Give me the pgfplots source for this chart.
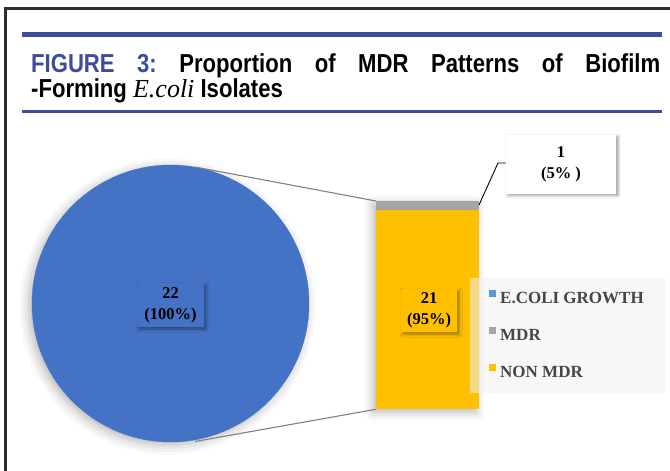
\documentclass[border=0pt]{standalone}
\usepackage{pgfplots}
\pgfplotsset{compat=1.18}
\usepackage{fontspec}
\setmainfont{Liberation Serif}
\newfontfamily\titlefont[FakeStretch=0.85]{Liberation Sans}
\usetikzlibrary{shadows.blur}
\definecolor{titleblue}{RGB}{61,76,155}
\definecolor{pieblue}{RGB}{68,114,196}
\definecolor{legendblue}{RGB}{91,155,213}
\definecolor{bargray}{RGB}{165,165,165}
\definecolor{baryellow}{RGB}{255,192,0}
\definecolor{conngray}{RGB}{128,128,128}
\definecolor{framecol}{RGB}{45,45,45}
\definecolor{legtext}{RGB}{70,70,70}
\definecolor{legbg}{RGB}{240,240,240}
\pgfplotsset{canvas/.style={at={(0pt,0pt)}, anchor=south west, width=670pt, height=471pt,
  scale only axis, xmin=0, xmax=670, ymin=0, ymax=471, y dir=reverse, hide axis, clip=false}}
\begin{document}
\begin{tikzpicture}[x=1pt,y=1pt]
\clip (0,0) rectangle (670,471);
% shadows behind pie and bar (pixel coords: (x, 471-y))
\fill[white, blur shadow={shadow xshift=-3pt, shadow yshift=-3pt, shadow blur radius=10pt, shadow opacity=30}] (170.5,167.5) circle[radius=138.5pt];
\fill[white, blur shadow={shadow xshift=-3pt, shadow yshift=-3pt, shadow blur radius=9pt, shadow opacity=30}] (376,62) rectangle (479,270);
% pie: E.COLI GROWTH = 22 (100%)
\begin{axis}[canvas]
\addplot[only marks, mark=*, color=pieblue, mark size=138.5pt, forget plot] coordinates {(170.5,303.5)};
\end{axis}
% stacked bar (MDR pattern among 22 isolates)
\begin{axis}[at={(376pt,62pt)}, anchor=south west, width=103pt, height=208pt,
  scale only axis, xmin=-0.5, xmax=0.5, ymin=0, ymax=22, hide axis,
  ybar stacked, bar width=103pt, clip=false]
\addplot[fill=baryellow, draw=none] coordinates {(0,21)}; % NON MDR
\addplot[fill=bargray, draw=none] coordinates {(0,1)};    % MDR
\end{axis}
% main canvas in pixel units
\begin{axis}[canvas,
  legend style={at={(488.5/670,181/471)}, anchor=north west, draw=none, fill=none,
    inner sep=0pt, row sep=23.5pt, column sep=0pt,
    font=\bfseries\fontsize{17}{18}\selectfont, text=legtext,
    cells={anchor=west},
    nodes={inner xsep=2.5pt, inner ysep=0pt, text height=11pt, text depth=0pt}},
  legend image code/.code={\path[draw=none, fill=none] (0pt,0pt) rectangle (9pt,0pt); \fill[#1, draw=none] (0pt,0.8pt) rectangle (7pt,7.8pt);}]
% frame
\draw[framecol, line width=2.5pt] (axis cs:5.5,471) -- (axis cs:5.5,8.3) -- (axis cs:670,8.3);
% blue rules
\fill[titleblue] (axis cs:22,32) rectangle (axis cs:662,36.5);
\fill[titleblue] (axis cs:22,109.8) rectangle (axis cs:662,112.6);
% title
\node[anchor=base west, inner sep=0pt, font=\titlefont\bfseries\fontsize{26}{30}\selectfont] at (axis cs:31,72)
  {\hbox to 629pt{\textcolor{titleblue}{FIGURE}\hfill\textcolor{titleblue}{3:}\hfill Proportion\hfill of\hfill MDR\hfill Patterns\hfill of\hfill Biofilm}};
\node[anchor=base west, inner sep=0pt, font=\titlefont\bfseries\fontsize{26}{30}\selectfont] at (axis cs:31,97)
  {-Forming {\rmfamily\mdseries\itshape\fontsize{26}{30}\selectfont E.coli} Isolates};
% connector lines
\draw[conngray, line width=1.1pt] (axis cs:195,167) -- (axis cs:376,201);
\draw[conngray, line width=1.1pt] (axis cs:195,441.5) -- (axis cs:376,409.3);
% data labels
\node[fill=pieblue, minimum width=67pt, minimum height=44pt, align=center, inner sep=0pt,
  font=\bfseries\fontsize{16.5}{21}\selectfont,
  blur shadow={shadow xshift=2pt, shadow yshift=-2pt, shadow blur radius=3pt, shadow opacity=40}]
  at (axis cs:170.5,305) {22\\(100\%)};
\node[fill=baryellow, minimum width=56pt, minimum height=43pt, align=center, inner sep=0pt,
  font=\bfseries\fontsize{16.5}{21}\selectfont,
  blur shadow={shadow xshift=2pt, shadow yshift=-2pt, shadow blur radius=3pt, shadow opacity=40}]
  at (axis cs:429,310.5) {21\\(95\%)};
\draw[black, line width=0.9pt] (axis cs:479,205) -- (axis cs:498,163) -- (axis cs:506,163);
\node[fill=white, minimum width=110pt, minimum height=59pt, align=center, inner sep=0pt,
  font=\bfseries\fontsize{16.5}{21}\selectfont,
  blur shadow={shadow xshift=2pt, shadow yshift=-2pt, shadow blur radius=3pt, shadow opacity=40}]
  at (axis cs:561,164) {1\\(5\% )};
% legend background
\fill[legbg, fill opacity=0.55] (axis cs:470,278) rectangle (axis cs:665,393);
\addlegendimage{fill=legendblue}\addlegendentry{E.COLI GROWTH}
\addlegendimage{fill=bargray}\addlegendentry{MDR}
\addlegendimage{fill=baryellow}\addlegendentry{NON MDR}
\end{axis}
\end{tikzpicture}
\end{document}
